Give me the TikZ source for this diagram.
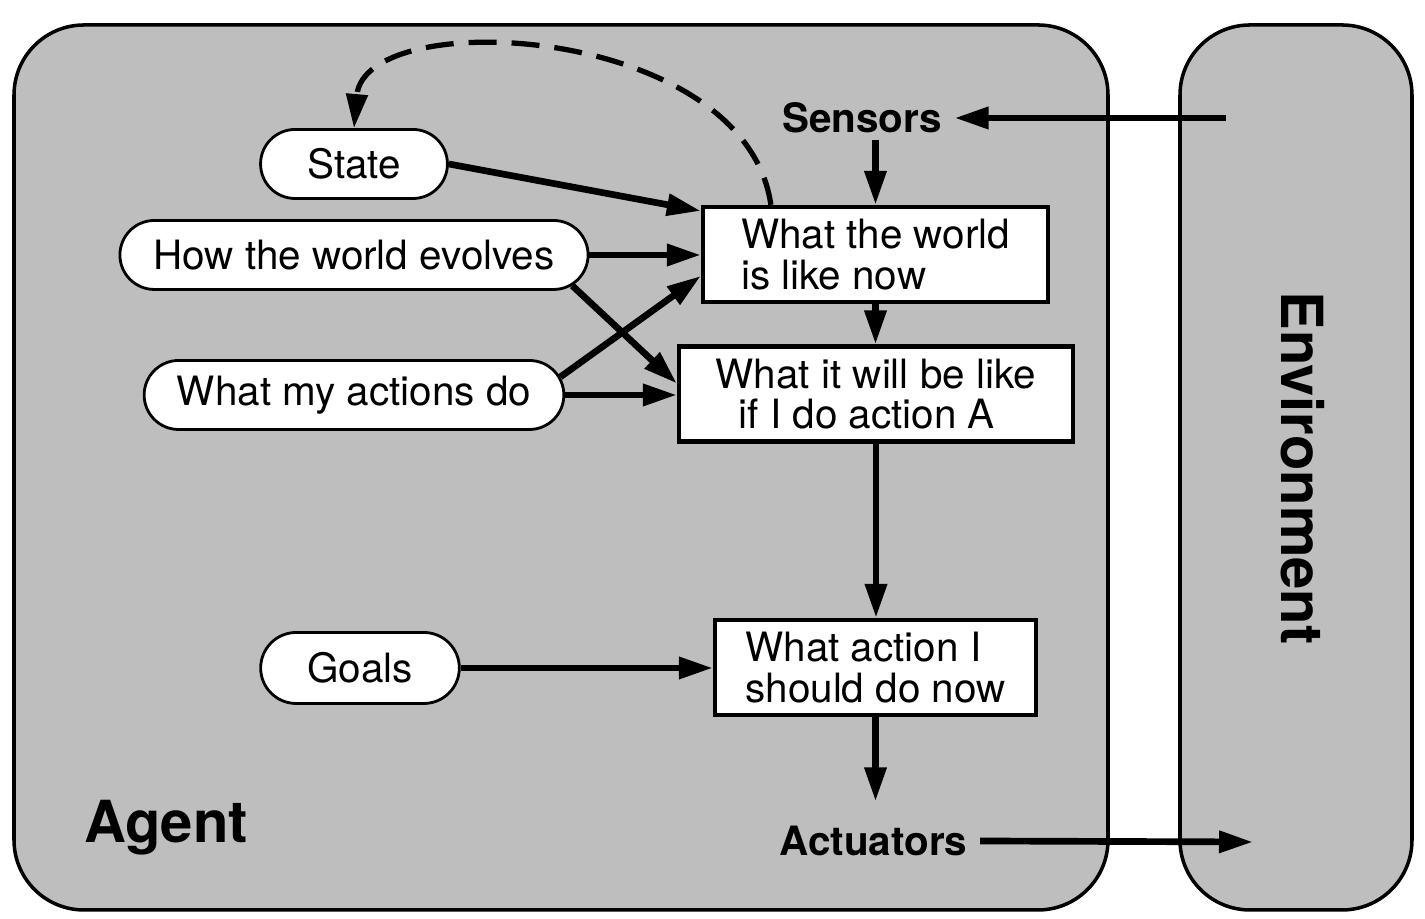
\documentclass[tikz,border=0pt]{standalone}
\usepackage{fontspec}
\setmainfont{TeX Gyre Heros}
\usepackage{tikz}
\usetikzlibrary{arrows.meta}
\usetikzlibrary{shapes.misc,positioning}
\definecolor{agentGray}{HTML}{BEBEBE}
\tikzset{outer-box/.style={draw,line width=1pt,fill=agentGray,rounded corners=0.7cm}}
\tikzset{know-node/.style={draw,rounded rectangle,fill=white,line width=0.8pt,minimum height=0.69cm,inner xsep=0.3cm}}
\tikzset{think-box/.style={draw,rectangle,fill=white,line width=1.2pt,align=left,minimum height=0.95cm,inner ysep=0.05cm}}
\tikzset{io-label/.style={font=\fontsize{11.5}{11.5}\selectfont\bfseries,inner sep=0.12cm}}
\tikzset{big-label/.style={font=\fontsize{16.5}{16.5}\selectfont\bfseries}}
\tikzset{flow/.style={->,line width=1.9pt}}
\tikzset{>={Triangle[length=3.4mm,width=2.1mm]}}

\begin{document}
\begin{tikzpicture}[font=\fontsize{11.5}{11.5}\selectfont]
            \useasboundingbox (0,0) rectangle (14.25,9.19);
            \draw[outer-box] (0.14,0.09) rectangle (11.08,8.94);
            \draw[outer-box] (11.80,0.09) rectangle (14.12,8.94);

            \node [know-node, inner xsep=0.43cm] (state) at (3.54, 7.55) {State};
            \node [know-node] (evolves) at (3.54, 6.64) {How the world evolves};
            \node [know-node, inner xsep=0.27cm] (actions) at (3.54, 5.24) {What my actions do};
            \node [know-node, inner xsep=0.43cm, minimum height=0.71cm] (goals) at (3.60, 2.51) {Goals};

            \node [think-box, minimum width=3.45cm] (world-now) at (8.755, 6.645) {What the world\\is like now};
            \node [think-box, minimum width=3.94cm] (world-next) at (8.76, 5.25) {What it will be like\\\hspace{0.23cm}if I do action A};
            \node [think-box, minimum width=3.21cm] (action-now) at (8.755, 2.515) {What action I\\should do now};

            \node [io-label] (sensors) at (8.62, 8.01) {Sensors};
            \node [io-label] (actuators) at (8.735, 0.78) {Actuators};
            \node [big-label] (agent) at (1.66, 0.91) {Agent};
            \node [big-label, rotate=-90] (environment) at (13.03, 4.51) {Environment};

            \coordinate (env-in) at (12.26, 8.01);
            \coordinate (env-out) at (12.53, 0.77);

            \draw[flow] (env-in) -- (sensors.east);
            \draw[flow] ([yshift=0.06cm]sensors.south -| world-now.north) -- (world-now.north);
            \draw[flow] (world-now.south) -- (world-now.south |- world-next.north);
            \draw[flow] (world-next.south) -- (world-next.south |- action-now.north);
            \draw[flow, shorten >=0.12cm] (action-now.south) -- (action-now.south |- actuators.north);
            \draw[flow] (actuators.east) -- (env-out);

            \draw[flow] (state.east) -- (world-now.166);
            \draw[flow] (evolves.east) -- (evolves.east -| world-now.west);
            \draw[flow] (evolves.-8) -- (world-next.177);
            \draw[flow] (actions.5) -- (world-now.187);
            \draw[flow] (actions.east) -- (actions.east -| world-next.west);
            \draw[flow] (goals.east) -- (goals.east -| action-now.west);

            \draw[flow, line width=1.5pt, dash pattern=on 2.8mm off 1.5mm]
                ([xshift=0.7cm]world-now.north west)
                .. controls (7.45, 8.95) and (3.65, 9.15) ..
                (state.north);
        \end{tikzpicture}
\end{document}
